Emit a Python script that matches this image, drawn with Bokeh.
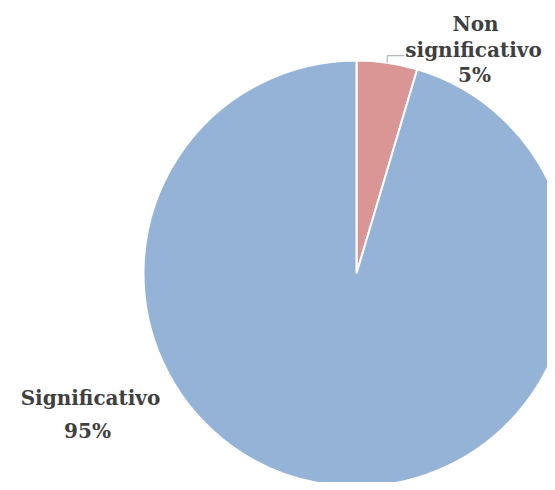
import math
from bokeh.plotting import figure
from bokeh.models import Range1d, ColumnDataSource
from bokeh.core.properties import value
from bokeh.embed import file_html
from bokeh.resources import INLINE

# Data
categories = ["Non significativo", "Significativo"]
shares = [4.6, 95.4]
colors = ["#D99694", "#95B3D7"]

W, H = 547, 482
CX, CY = 356, 273  # pie centre in frame pixels (from top-left)
R = 213

p = figure(width=W, height=H, output_backend="svg", toolbar_location=None,
           x_range=Range1d(-CX, W - CX), y_range=Range1d(-(H - CY), CY),
           min_border=0, outline_line_color=None)
p.axis.visible = False
p.grid.visible = False
p.background_fill_color = "white"
p.border_fill_color = "white"

total = sum(shares)
starts, ends, mids = [], [], []
cum = 0.0
for s in shares:
    a0 = math.pi / 2 - 2 * math.pi * cum / total
    cum += s
    a1 = math.pi / 2 - 2 * math.pi * cum / total
    starts.append(a0)
    ends.append(a1)
    mids.append((a0 + a1) / 2)

src = ColumnDataSource(dict(start=starts, end=ends, color=colors))
p.wedge(x=0, y=0, radius=R, start_angle="start", end_angle="end",
        direction="clock", fill_color="color", line_color="white",
        line_width=2, source=src)

font = value("DejaVu Serif")
txt_color = "#404040"
fs = "20px"

def pct(s):
    return f"{int(round(s / total * 100 + 1e-9))}%"

# label for small slice
lines_small = ["Non", categories[0].split(" ", 1)[1], pct(shares[0])]
p.text(x=[119, 117, 118], y=[250, 224, 199], text=lines_small, text_font=font,
       text_font_style="bold", text_font_size=fs, text_color=txt_color,
       text_align="center", text_baseline="alphabetic")

# leader line from slice edge
ex = R * math.cos(mids[0])
ey = R * math.sin(mids[0])
p.line(x=[ex, ex, ex + 17], y=[ey, ey + 7, ey + 7], line_color="#A6A6A6", line_width=1)

# label for big slice
lines_big = [categories[1], pct(shares[1])]
p.text(x=[-266, -269], y=[-124, -157], text=lines_big, text_font=font,
       text_font_style="bold", text_font_size=fs, text_color=txt_color,
       text_align="center", text_baseline="alphabetic")

open("out.html", "w").write(file_html(p, INLINE))
